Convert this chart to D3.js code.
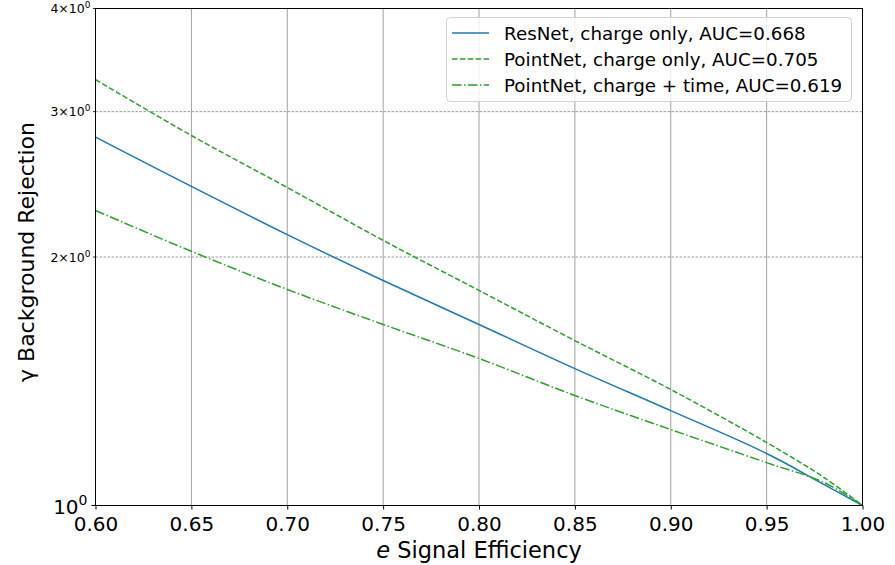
<!DOCTYPE html>
<html><head><meta charset="utf-8">
<script src="https://cdn.jsdelivr.net/npm/d3@7"></script>
<style>body{margin:0;background:#fff;} svg{display:block;font-family:"DejaVu Sans",sans-serif;}</style>
</head><body>
<svg id="c" width="895" height="565"></svg>
<script>
const efficiency = [0.60, 0.65, 0.70, 0.75, 0.80, 0.85, 0.90, 0.95, 0.98, 1.00];
const resnetCharge = [2.794, 2.435, 2.129, 1.873, 1.657, 1.465, 1.303, 1.156, 1.060, 1.0];
const pointnetCharge = [3.281, 2.807, 2.428, 2.095, 1.822, 1.584, 1.382, 1.192, 1.081, 1.0];
const pointnetChargeTime = [2.277, 2.032, 1.827, 1.657, 1.507, 1.359, 1.236, 1.127, 1.066, 1.0];
const seriesNames = ["ResNet, charge only, AUC=0.668", "PointNet, charge only, AUC=0.705", "PointNet, charge + time, AUC=0.619"];
const xTicks = [0.60, 0.65, 0.70, 0.75, 0.80, 0.85, 0.90, 0.95, 1.00];
const yMinorTicks = [2, 3, 4];

const svg = d3.select("#c");
const L = 95.5, R = 862.5, T = 8.5, B = 505.5;
const x = d3.scaleLinear().domain([0.6, 1.0]).range([L, R]);
const y = d3.scaleLog().domain([1, 4]).range([B, T]);

// vertical grid
svg.append("g").selectAll("line").data(xTicks).join("line")
  .attr("x1", d => x(d)).attr("x2", d => x(d)).attr("y1", T).attr("y2", B)
  .attr("stroke", "#a0a0a0").attr("stroke-width", 1);
// horizontal minor grid (dashed)
svg.append("g").selectAll("line").data([2, 3]).join("line")
  .attr("x1", L).attr("x2", R).attr("y1", d => y(d)).attr("y2", d => y(d))
  .attr("stroke", "#808080").attr("stroke-width", 0.8).attr("stroke-dasharray", "2.5,1.5");

const series = [
  {name: seriesNames[0], vals: resnetCharge, color: "#1f77b4", dash: null},
  {name: seriesNames[1], vals: pointnetCharge, color: "#2ca02c", dash: "5.5,2.4"},
  {name: seriesNames[2], vals: pointnetChargeTime, color: "#2ca02c", dash: "9.6,2.4,1.5,2.4"}
];
const line = d3.line().x((d, i) => x(efficiency[i])).y(d => y(d)).curve(d3.curveCatmullRom.alpha(0.5));
const plot = svg.append("g");
series.forEach(s => {
  plot.append("path").datum(s.vals).attr("d", line).attr("fill", "none")
    .attr("stroke", s.color).attr("stroke-width", 1.5)
    .attr("stroke-dasharray", s.dash);
});

// frame
svg.append("rect").attr("x", L).attr("y", T).attr("width", R - L).attr("height", B - T)
  .attr("fill", "none").attr("stroke", "#000").attr("stroke-width", 1);

// x axis
const xAxis = d3.axisBottom(x).tickValues(xTicks).tickFormat(d3.format(".2f")).tickSizeOuter(0).tickSize(4);
const gx = svg.append("g").attr("transform", `translate(0,${B})`).call(xAxis);
gx.select(".domain").remove();
gx.selectAll("text").attr("font-size", 20).attr("fill", "#000").attr("font-family", "DejaVu Sans").attr("y", 9).attr("dy", "0.8em");

// y axis: major tick at 1
const gy = svg.append("g");
gy.append("line").attr("x1", L - 4).attr("x2", L).attr("y1", y(1)).attr("y2", y(1)).attr("stroke", "#000");
const major = gy.append("text").attr("x", L - 8).attr("y", y(1) + 8).attr("text-anchor", "end")
  .attr("font-size", 20).attr("fill", "#000");
major.append("tspan").text("10");
major.append("tspan").attr("font-size", 14).attr("dy", -9).text("0");
// minor ticks
yMinorTicks.forEach(v => {
  gy.append("line").attr("x1", L - 2.5).attr("x2", L).attr("y1", y(v)).attr("y2", y(v)).attr("stroke", "#000").attr("stroke-width", 0.8);
  const t = gy.append("text").attr("x", L - 5).attr("y", y(v) + 4.5).attr("text-anchor", "end")
    .attr("font-size", 12.5).attr("fill", "#000");
  t.append("tspan").text(v + "\u00d710");
  t.append("tspan").attr("font-size", 9).attr("dy", -5).text("0");
});

// axis labels
const xl = svg.append("text").attr("x", (L + R) / 2).attr("y", 558).attr("text-anchor", "middle")
  .attr("font-size", 22.5).attr("fill", "#000");
xl.append("tspan").attr("font-style", "italic").text("e");
xl.append("tspan").text(" Signal Efficiency");
const yl = svg.append("text").attr("transform", `translate(34,252) rotate(-90)`)
  .attr("text-anchor", "middle").attr("font-size", 22).attr("fill", "#000");
yl.append("tspan").text("\u03b3");
yl.append("tspan").text(" Background Rejection");

// legend
const lg = svg.append("g");
lg.append("rect").attr("x", 446.5).attr("y", 17.5).attr("width", 405).attr("height", 84).attr("rx", 4)
  .attr("fill", "#fff").attr("fill-opacity", 0.8).attr("stroke", "#d0d0d0");
series.forEach((s, i) => {
  const yy = 33 + i * 26;
  lg.append("line").attr("x1", 452).attr("x2", 489).attr("y1", yy).attr("y2", yy)
    .attr("stroke", s.color).attr("stroke-width", 1.5).attr("stroke-dasharray", s.dash);
  lg.append("text").attr("x", 504).attr("y", yy + 6.5).attr("font-size", 18.3).attr("fill", "#000").text(s.name);
});
</script>
</body></html>
